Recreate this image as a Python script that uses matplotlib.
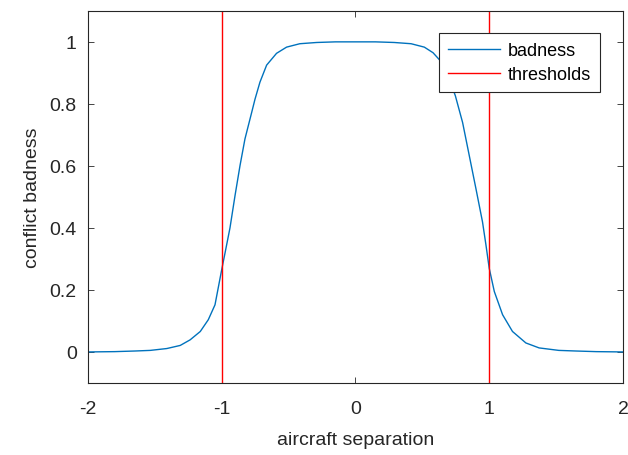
import matplotlib.pyplot as plt

plt.rcParams['font.family'] = ['Liberation Sans', 'DejaVu Sans']
plt.rcParams['axes.unicode_minus'] = False

# values
separation = [-2.0, -1.8, -1.65, -1.534, -1.41, -1.31, -1.236, -1.16, -1.10, -1.05,
              -1.0, -0.97, -0.938, -0.90, -0.863, -0.826, -0.776, -0.751, -0.714, -0.664,
              -0.59, -0.515, -0.416, -0.29, -0.15, 0.0,
              0.15, 0.29, 0.416, 0.515, 0.58, 0.664, 0.747, 0.801, 0.851, 0.901,
              0.95, 0.976, 1.0, 1.038, 1.10, 1.174, 1.274, 1.373, 1.52, 1.65,
              1.8, 2.0]
badness = [0.0, 0.001, 0.003, 0.005, 0.011, 0.021, 0.039, 0.066, 0.104, 0.152,
           0.265, 0.33, 0.40, 0.505, 0.601, 0.687, 0.772, 0.815, 0.87, 0.925,
           0.963, 0.983, 0.994, 0.998, 1.0, 1.0,
           1.0, 0.998, 0.994, 0.983, 0.965, 0.925, 0.826, 0.74, 0.633, 0.526,
           0.419, 0.344, 0.27, 0.195, 0.12, 0.066, 0.029, 0.013, 0.005, 0.003,
           0.001, 0.0]
thresholds = [-1, 1]

fig = plt.figure(figsize=(6.28, 4.56), dpi=100)
ax = fig.add_axes([0.140, 0.158, 0.852, 0.816])

ax.plot(separation, badness, color='#0072BD', lw=1.0, label='badness')
for i, t in enumerate(thresholds):
    ax.axvline(t, color='#FF0000', lw=1.0, label='thresholds' if i == 0 else None)

ax.set_xlim(-2, 2)
ax.set_ylim(-0.1, 1.1)
ax.set_xticks([-2, -1, 0, 1, 2])
ax.set_yticks([0, 0.2, 0.4, 0.6, 0.8, 1])
ax.set_yticklabels(['0', '0.2', '0.4', '0.6', '0.8', '1'])
ax.tick_params(direction='in', top=True, right=True, labelsize=14, colors='#262626',
               length=4, width=0.6)
ax.tick_params(axis='x', pad=12)
ax.tick_params(axis='y', pad=8)
for s in ax.spines.values():
    s.set_color('#262626')
    s.set_linewidth(0.8)

ax.set_xlabel('aircraft separation', fontsize=14, color='#262626', labelpad=10)
ax.set_ylabel('conflict badness', fontsize=14, color='#262626', labelpad=6)

leg = ax.legend(loc='upper right', bbox_to_anchor=(0.957, 0.941), borderaxespad=0,
                fancybox=False, framealpha=1, edgecolor='#262626', fontsize=13,
                handlelength=2.9, handletextpad=0.4, borderpad=0.5, labelspacing=0.4)
leg.get_frame().set_linewidth(0.8)

fig.savefig('out.png', dpi=100)
